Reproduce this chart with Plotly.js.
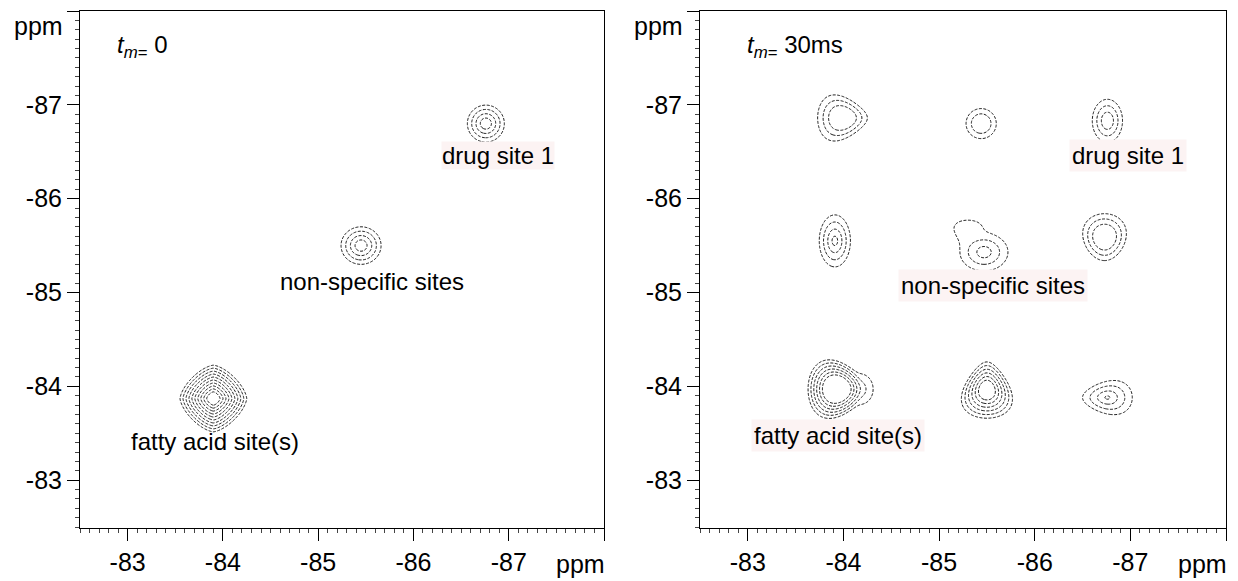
<!DOCTYPE html>
<html>
<head>
<meta charset="utf-8">
<script src="https://cdn.plot.ly/plotly-3.0.1.min.js"></script>
<style>html,body{margin:0;padding:0;background:#fff;}#chart{width:1238px;height:581px;}</style>
</head>
<body>
<div id="chart"></div>
<script>
// ---------- DATA (ppm) ----------
// Axis ticks
const tickVals = [-83, -84, -85, -86, -87, -88];
const tickText = ['-83', '-84', '-85', '-86', '-87', ''];

// Panel 1: t_m = 0
// peak components: centre (x, y), outer-ring radius (rx, ry), ring count, inner-ring relative radius,
// shape exponent, width taper (down), height taper (right)
const p0X     = [-86.76, -85.45, -83.90];
const p0Y     = [-86.80, -85.50, -83.87];
const p0Rx    = [0.194, 0.21, 0.35];
const p0Ry    = [0.197, 0.20, 0.355];
const p0Rings = [4, 4, 10];
const p0Core  = [0.30, 0.30, 0.20];
const p0Shape = [2, 2, 1.5];
const p0Tx    = [0, 0, 0];
const p0Ty    = [0, 0, 0];

// Panel 2: t_m = 30 ms
const p1X     = [-83.99, -85.44, -86.76, -83.91, -85.47, -85.30, -86.73, -83.93, -84.18, -85.50, -86.76];
const p1Y     = [-86.86, -86.80, -86.83, -85.55, -85.43, -85.63, -85.59, -83.97, -83.97, -83.96, -83.88];
const p1Rx    = [0.26, 0.158, 0.158, 0.163, 0.25, 0.13, 0.226, 0.30, 0.13, 0.25, 0.26];
const p1Ry    = [0.23, 0.16, 0.229, 0.277, 0.20, 0.14, 0.25, 0.30, 0.16, 0.30, 0.175];
const p1Rings = [3, 2, 3, 4, 3, 1, 3, 6, 2, 6, 4];
const p1Core  = [0.56, 0.65, 0.40, 0.18, 0.30, 0, 0.55, 0.50, 0.40, 0.35, 0.10];
const p1Shape = [2, 2, 2, 2, 2, 2, 2, 2, 2, 2, 2];
const p1Tx    = [0, 0, 0, 0, 0, -0.5, -0.15, 0, 0, 0.4, 0];
const p1Ty    = [-0.4, 0, 0, 0, 0, 0, 0, -0.3, 0, 0, 0.3];

// Labels
const panelTitles = ['0', '30ms'];
const siteLabels = ['drug site 1', 'non-specific sites', 'fatty acid site(s)'];

// ---------- build contour fields from peak parameters ----------
function buildField(X, Y, Rx, Ry, Rings, Core, Shape, Tx, Ty) {
  const xs = [], ys = [];
  for (let v = -82.40; v >= -88.10; v -= 0.01) xs.push(+v.toFixed(3));
  for (let v = -82.40; v >= -88.10; v -= 0.01) ys.push(+v.toFixed(3));
  const k = 2;
  const z = [];
  for (let j = 0; j < ys.length; j++) {
    const row = new Array(xs.length);
    for (let i = 0; i < xs.length; i++) {
      const F = [];
      let m = -Infinity;
      for (let c = 0; c < X.length; c++) {
        const p = Shape[c];
        const vDown = (ys[j] - Y[c]) / Ry[c];      // + below centre on screen
        const uRight = (X[c] - xs[i]) / Rx[c];     // + right of centre on screen
        const rx = Rx[c] * Math.max(0.3, 1 + Tx[c] * Math.max(-1.5, Math.min(1.5, vDown)));
        const ry = Ry[c] * Math.max(0.3, 1 + Ty[c] * Math.max(-1.5, Math.min(1.5, uRight)));
        const dx = Math.abs((xs[i] - X[c]) / rx);
        const dy = Math.abs((ys[j] - Y[c]) / ry);
        const d = Math.pow(Math.pow(dx, p) + Math.pow(dy, p), 1 / p);
        const sp = Rings[c] > 1 ? (1 - Core[c]) / (Rings[c] - 1) : 1;
        const f = Math.min((1 - d) / sp, Rings[c] - 0.5) * k;
        F.push(f);
        if (f > m) m = f;
      }
      let s = 0;
      for (const f of F) s += Math.exp(f - m);
      row[i] = (m + Math.log(s)) / k;
    }
    z.push(row);
  }
  return {xs, ys, z};
}

const f0 = buildField(p0X, p0Y, p0Rx, p0Ry, p0Rings, p0Core, p0Shape, p0Tx, p0Ty);
const f1 = buildField(p1X, p1Y, p1Rx, p1Ry, p1Rings, p1Core, p1Shape, p1Tx, p1Ty);

const lineStyle = {color: '#000', width: 0.9, dash: '3px,1.5px', smoothing: 1};

const traces = [
  {type: 'contour', x: f0.xs, y: f0.ys, z: f0.z, xaxis: 'x', yaxis: 'y',
   autocontour: false, contours: {start: 0, end: Math.max(...p0Rings) - 1, size: 1, coloring: 'none'},
   line: lineStyle, showscale: false, hoverinfo: 'skip'},
  {type: 'contour', x: f1.xs, y: f1.ys, z: f1.z, xaxis: 'x2', yaxis: 'y2',
   autocontour: false, contours: {start: 0, end: Math.max(...p1Rings) - 1, size: 1, coloring: 'none'},
   line: lineStyle, showscale: false, hoverinfo: 'skip'}
];

// ---------- layout ----------
const W = 1238, H = 581;
const FONT = 'Liberation Sans, Arial, sans-serif';
const px = x => x / W;
const py = y => 1 - y / H;

function axisBase(range) {
  return {
    range: range,
    tickmode: 'array', tickvals: tickVals, ticktext: tickText,
    ticks: 'outside', ticklen: 12, tickwidth: 1, tickcolor: '#000',
    showline: true, linecolor: '#000', linewidth: 1, mirror: true,
    showgrid: false, zeroline: false,
    tickfont: {family: FONT, size: 25, color: '#000'},
    minor: {tickmode: 'linear', tick0: 0, dtick: 0.1, ticks: 'outside', ticklen: 4, tickwidth: 1, tickcolor: '#444', showgrid: false}
  };
}
function xAxis(domain, anchor) {
  return Object.assign(axisBase([-82.5, -88.0]), {domain: domain, anchor: anchor});
}
function yAxis(domain, anchor) {
  return Object.assign(axisBase([-82.49, -88.0]), {domain: domain, anchor: anchor});
}

const yDom = [py(528), py(11)];

function ann(text, x, y, opts) {
  return Object.assign({
    text: text, xref: 'paper', yref: 'paper', x: px(x), y: py(y),
    xanchor: 'center', yanchor: 'middle', showarrow: false,
    font: {family: FONT, size: 24, color: '#000'}
  }, opts || {});
}
const BG = '#fcf3f3';
const bigFont = {family: FONT, size: 25, color: '#000'};
const tmFont = {family: FONT, size: 24, color: '#000'};

const annotations = [
  // panel 1
  ann('ppm', 38, 26, {font: bigFont}),
  ann('ppm', 580, 564, {font: bigFont}),
  ann('<i>t</i><sub><i>m</i>=</sub> ' + panelTitles[0], 115, 46, {xanchor: 'left', font: tmFont}),
  ann(siteLabels[0], 498, 155, {bgcolor: BG, borderpad: 0}),
  ann(siteLabels[1], 372, 281),
  ann(siteLabels[2], 215, 441),
  // panel 2
  ann('ppm', 658, 26, {font: bigFont}),
  ann('ppm', 1202, 564, {font: bigFont}),
  ann('<i>t</i><sub><i>m</i>=</sub> ' + panelTitles[1], 745, 46, {xanchor: 'left', font: tmFont}),
  ann(siteLabels[0], 1128, 155, {bgcolor: BG, borderpad: 2}),
  ann(siteLabels[1], 993, 285, {bgcolor: BG, borderpad: 2}),
  ann(siteLabels[2], 838, 435, {bgcolor: BG, borderpad: 2})
];

const layout = {
  width: W, height: H,
  margin: {l: 0, r: 0, t: 0, b: 0},
  paper_bgcolor: '#fff', plot_bgcolor: '#fff',
  showlegend: false,
  xaxis: xAxis([px(80), px(604)], 'y'),
  yaxis: yAxis(yDom, 'x'),
  xaxis2: xAxis([px(700), px(1226)], 'y2'),
  yaxis2: yAxis(yDom, 'x2'),
  annotations: annotations
};

Plotly.newPlot('chart', traces, layout, {staticPlot: true, displayModeBar: false});
</script>
</body>
</html>
